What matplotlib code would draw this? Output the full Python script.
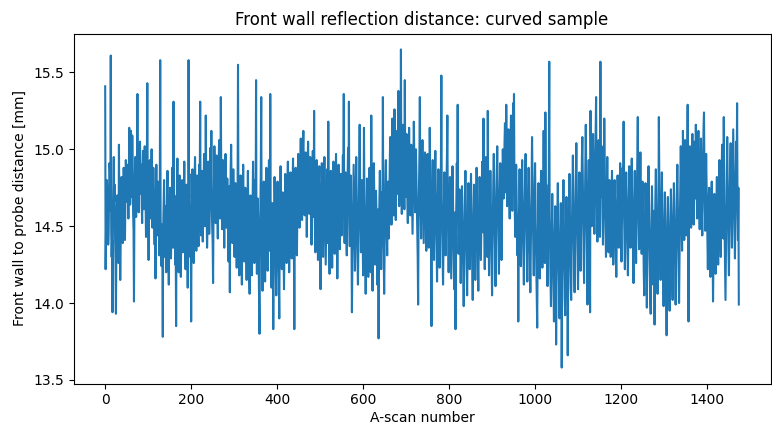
import matplotlib
matplotlib.use("Agg")
import matplotlib.pyplot as plt
import numpy as np

title = "Front wall reflection distance: curved sample"
x_label = "A-scan number"
y_label = "Front wall to probe distance [mm]"

# Front wall to probe distance per A-scan (mm), 25 values per row
distance = [
    15.41, 14.22, 14.48, 14.65, 14.80, 14.72, 14.50, 14.38, 14.44, 14.69, 14.91, 14.85, 14.60, 15.61, 14.47, 14.30, 14.41, 13.94, 14.52, 14.74, 14.95, 14.66, 14.77, 14.43, 14.28,
    13.93, 14.35, 14.58, 14.70, 14.49, 14.32, 14.26, 15.03, 14.61, 14.44, 14.15, 14.38, 14.56, 14.82, 14.70, 14.47, 14.39, 14.62, 14.88, 14.76, 14.58, 14.41, 14.67, 14.93, 14.84,
    14.66, 14.78, 14.90, 14.72, 14.55, 14.80, 15.14, 14.86, 14.64, 14.73, 15.12, 14.88, 14.69, 15.09, 14.81, 14.58, 14.47, 14.01, 14.62, 14.84, 14.95, 14.70, 14.56, 14.77, 14.92,
    15.36, 14.82, 14.68, 14.59, 14.80, 14.97, 15.05, 14.86, 14.71, 14.90, 14.64, 14.52, 14.75, 14.99, 14.88, 14.61, 14.79, 15.02, 14.84, 14.66, 14.43, 14.70, 14.93, 15.43, 14.74,
    14.58, 14.28, 14.66, 14.85, 14.93, 14.72, 14.55, 14.81, 15.00, 14.77, 14.49, 14.62, 14.88, 14.70, 14.53, 14.38, 14.60, 14.16, 14.72, 14.90, 14.68, 14.44, 14.57, 14.79, 14.63,
    14.47, 14.31, 14.69, 15.58, 14.55, 14.40, 14.24, 14.51, 14.35, 13.78, 14.49, 14.66, 14.80, 14.58, 14.30, 14.42, 14.63, 14.20, 14.45, 14.72, 14.86, 14.54, 14.33, 14.12, 14.48,
    14.61, 14.75, 14.50, 14.29, 14.41, 14.67, 14.88, 14.57, 14.36, 15.31, 14.54, 14.70, 14.43, 14.25, 14.39, 13.85, 14.52, 14.78, 14.94, 14.66, 14.45, 14.20, 14.57, 14.83, 14.60,
    14.38, 14.17, 14.44, 14.69, 14.80, 14.56, 14.33, 14.48, 14.73, 14.92, 14.64, 14.40, 14.22, 14.51, 14.77, 14.59, 14.35, 14.10, 14.46, 15.58, 14.68, 14.84, 14.55, 14.30, 14.43,
    13.88, 14.49, 14.71, 14.87, 14.62, 14.41, 14.26, 14.58, 14.80, 14.95, 14.69, 14.47, 14.34, 14.60, 14.83, 14.74, 14.52, 14.37, 14.66, 14.90, 14.78, 15.31, 14.57, 14.44, 14.70,
    14.86, 14.63, 14.40, 14.55, 14.79, 14.97, 14.72, 14.50, 14.64, 15.22, 14.81, 14.59, 14.36, 14.48, 14.73, 14.92, 14.68, 14.45, 14.57, 14.82, 15.01, 14.76, 15.12, 14.62, 14.49,
    14.40, 14.13, 14.58, 14.80, 15.02, 14.88, 14.65, 14.52, 14.74, 14.96, 14.83, 14.57, 14.42, 14.69, 14.91, 15.06, 14.79, 14.55, 14.67, 15.34, 14.86, 14.63, 14.48, 14.71, 14.93,
    14.78, 14.55, 14.36, 14.62, 14.85, 14.97, 14.70, 14.49, 14.58, 14.81, 14.66, 14.41, 14.27, 14.53, 14.76, 14.07, 14.60, 14.88, 15.03, 14.74, 14.52, 14.39, 14.64, 14.87, 14.69,
    14.46, 14.30, 14.57, 14.78, 14.62, 14.41, 14.23, 14.49, 14.71, 15.55, 14.66, 14.44, 14.18, 14.37, 14.60, 14.83, 14.58, 14.35, 14.12, 14.45, 14.69, 14.90, 14.63, 14.40, 14.27,
    14.52, 14.75, 14.58, 14.33, 14.15, 14.41, 14.64, 14.86, 14.61, 14.38, 14.22, 14.06, 14.47, 14.70, 14.55, 14.32, 14.18, 14.43, 14.67, 14.92, 14.74, 14.49, 14.26, 14.53, 14.80,
    14.57, 15.45, 14.36, 14.19, 14.44, 14.68, 14.51, 14.29, 14.02, 13.80, 14.40, 14.63, 14.85, 15.34, 14.48, 14.25, 14.08, 14.37, 14.60, 14.79, 14.54, 14.31, 14.14, 14.42, 14.66,
    14.88, 14.62, 14.39, 14.21, 14.46, 14.71, 14.93, 14.58, 14.34, 15.36, 14.52, 14.27, 14.10, 14.43, 14.65, 14.49, 13.83, 14.38, 14.60, 14.82, 14.67, 14.41, 14.18, 14.05, 14.35,
    14.58, 14.79, 14.55, 14.30, 14.12, 13.90, 14.44, 14.68, 14.89, 14.63, 14.40, 14.22, 14.47, 14.72, 14.56, 14.33, 14.09, 14.37, 14.61, 14.84, 14.70, 14.45, 14.26, 14.51, 14.77,
    14.92, 14.66, 14.43, 14.20, 14.38, 14.62, 14.85, 14.71, 14.48, 14.29, 14.53, 14.78, 14.94, 14.60, 14.35, 13.83, 14.42, 14.67, 14.88, 14.74, 14.50, 14.31, 14.57, 14.82, 14.97,
    14.80, 14.62, 14.49, 14.71, 14.93, 15.07, 14.86, 14.65, 14.54, 14.76, 15.00, 15.12, 14.89, 14.68, 14.57, 14.79, 14.98, 14.84, 14.61, 14.43, 14.66, 14.90, 15.05, 14.82, 14.70,
    14.58, 14.77, 14.95, 14.73, 14.51, 14.38, 14.60, 14.84, 14.99, 14.80, 14.56, 15.25, 14.69, 14.47, 14.33, 14.55, 14.78, 14.93, 14.71, 14.49, 14.28, 14.52, 14.75, 14.89, 14.64,
    14.42, 14.09, 14.50, 14.73, 14.91, 14.68, 14.44, 14.30, 14.56, 14.80, 14.95, 14.71, 14.48, 14.25, 14.47, 14.70, 14.87, 14.63, 14.39, 15.18, 14.58, 14.36, 14.19, 14.45, 14.69,
    14.86, 14.64, 14.41, 14.23, 14.50, 14.74, 14.92, 14.70, 14.47, 14.32, 14.59, 14.81, 14.97, 14.75, 14.52, 14.16, 14.43, 14.67, 14.90, 14.72, 14.49, 14.35, 14.61, 14.84, 14.66,
    14.44, 14.58, 14.79, 14.96, 14.73, 15.36, 14.55, 14.39, 14.62, 14.85, 14.70, 14.46, 14.31, 14.57, 14.82, 15.01, 14.68, 15.31, 14.52, 14.37, 14.60, 14.83, 14.64, 14.41, 13.94,
    14.26, 14.49, 14.72, 14.90, 14.66, 14.43, 14.21, 14.48, 14.74, 14.95, 14.70, 14.46, 14.28, 14.12, 14.40, 14.63, 14.87, 15.16, 14.78, 14.54, 14.33, 14.57, 14.80, 14.61, 14.37,
    14.18, 14.42, 15.14, 14.69, 14.47, 14.24, 14.06, 14.35, 14.58, 14.81, 14.62, 14.39, 14.17, 14.41, 14.66, 14.88, 14.63, 14.40, 14.20, 15.22, 14.53, 14.30, 14.08, 14.44, 14.70,
    14.91, 14.67, 14.43, 14.25, 14.48, 14.73, 14.59, 14.34, 14.12, 14.38, 14.61, 13.77, 14.45, 14.69, 14.86, 14.64, 14.40, 14.22, 14.47, 14.72, 14.55, 15.34, 14.50, 14.28, 14.06,
    14.35, 14.60, 14.84, 14.93, 14.70, 14.48, 14.31, 14.55, 14.79, 14.62, 14.42, 14.68, 14.90, 15.08, 14.85, 14.63, 14.51, 14.74, 15.20, 14.96, 14.72, 14.57, 14.81, 15.26, 14.89,
    14.67, 14.54, 14.76, 14.98, 15.12, 14.90, 14.71, 15.38, 14.84, 14.63, 14.79, 15.02, 14.88, 15.65, 14.75, 14.58, 14.70, 14.93, 15.16, 14.97, 14.74, 14.61, 15.45, 14.86, 14.69,
    14.92, 15.10, 14.87, 14.66, 14.52, 14.73, 14.95, 15.14, 14.91, 14.70, 14.57, 14.78, 15.03, 14.84, 14.62, 14.45, 14.68, 14.89, 15.18, 14.94, 14.76, 14.59, 14.83, 15.00, 14.80,
    14.63, 14.48, 14.30, 13.99, 14.55, 14.77, 14.96, 15.34, 14.74, 14.57, 14.42, 14.66, 14.88, 15.06, 14.82, 14.60, 14.39, 14.58, 14.81, 14.98, 14.75, 14.53, 14.34, 14.62, 14.85,
    14.97, 14.72, 14.50, 14.36, 14.61, 15.14, 14.83, 14.59, 14.40, 13.85, 14.52, 14.76, 14.93, 14.70, 14.47, 14.28, 14.55, 14.80, 14.99, 14.74, 14.53, 14.37, 14.14, 14.45, 14.68,
    14.87, 14.64, 14.42, 14.23, 14.49, 14.71, 14.90, 15.48, 14.67, 14.45, 14.29, 14.12, 14.40, 14.63, 14.85, 14.70, 14.48, 14.31, 14.57, 14.79, 14.95, 15.22, 14.61, 14.38, 14.20,
    14.44, 14.66, 14.82, 14.60, 14.37, 14.16, 14.42, 14.68, 14.89, 14.71, 14.50, 14.27, 14.09, 14.38, 14.59, 13.83, 14.47, 14.70, 14.91, 14.73, 15.29, 14.55, 14.32, 14.48, 14.74,
    14.57, 14.35, 14.13, 14.30, 14.52, 14.76, 14.60, 14.38, 14.17, 13.98, 14.27, 14.49, 14.71, 14.86, 14.63, 14.41, 14.20, 14.05, 14.33, 14.56, 14.78, 14.62, 14.39, 14.22, 14.46,
    14.69, 14.84, 14.61, 14.40, 14.19, 14.02, 14.31, 14.54, 14.77, 14.59, 14.36, 14.15, 14.43, 14.67, 14.88, 14.70, 14.47, 14.25, 14.08, 14.37, 14.60, 14.82, 14.64, 14.42, 14.28,
    14.51, 14.73, 14.92, 14.68, 14.46, 15.20, 14.63, 14.41, 14.22, 14.50, 14.74, 14.95, 14.71, 14.48, 14.30, 15.25, 14.66, 14.44, 14.18, 14.39, 14.62, 14.86, 14.69, 14.45, 14.27,
    14.05, 14.34, 14.58, 14.81, 14.97, 14.75, 14.53, 14.32, 14.11, 14.40, 14.64, 14.87, 15.02, 14.78, 14.55, 14.36, 14.19, 14.47, 14.70, 14.91, 14.72, 14.49, 14.28, 14.56, 14.80,
    15.00, 14.86, 14.68, 14.82, 15.05, 15.17, 14.94, 14.72, 15.29, 14.85, 14.63, 14.77, 14.99, 15.13, 14.90, 14.69, 14.55, 14.80, 15.04, 15.22, 14.96, 14.74, 14.60, 14.83, 15.30,
    14.88, 15.36, 14.79, 14.57, 14.43, 14.67, 14.90, 14.72, 14.48, 14.31, 14.55, 13.88, 14.46, 14.69, 14.87, 14.65, 14.42, 14.24, 14.50, 14.74, 14.93, 14.70, 14.47, 14.29, 14.12,
    14.38, 14.61, 14.83, 14.97, 14.75, 14.52, 14.33, 14.14, 14.43, 14.66, 14.88, 14.68, 14.45, 14.26, 14.07, 14.35, 14.58, 14.80, 15.08, 14.79, 14.56, 14.34, 14.18, 14.47, 14.72,
    14.91, 14.63, 14.40, 14.21, 14.03, 13.84, 14.32, 14.55, 14.78, 14.60, 14.37, 14.16, 14.44, 14.69, 14.86, 14.64, 14.42, 14.23, 14.50, 14.73, 15.12, 14.67, 14.45, 14.26, 15.24,
    14.58, 14.77, 14.52, 14.30, 14.11, 14.38, 14.62, 14.83, 15.57, 14.55, 14.33, 14.14, 13.98, 14.27, 14.50, 14.71, 14.49, 14.24, 14.05, 13.88, 14.20, 14.44, 14.63, 14.36, 13.73,
    14.12, 14.39, 14.61, 14.78, 14.54, 14.29, 14.06, 13.90, 14.17, 14.42, 14.65, 14.40, 13.58, 14.15, 14.33, 14.57, 14.80, 14.52, 14.26, 14.03, 13.92, 14.21, 14.48, 14.69, 14.44,
    14.20, 13.66, 14.10, 14.37, 14.62, 14.84, 14.59, 14.33, 14.11, 14.02, 14.30, 14.55, 14.78, 14.96, 14.70, 14.45, 14.22, 14.07, 14.35, 14.60, 14.82, 15.04, 14.76, 14.50, 14.27,
    14.09, 14.36, 14.60, 14.85, 14.66, 14.43, 14.21, 14.47, 14.72, 14.94, 15.08, 14.81, 14.56, 14.32, 14.13, 14.41, 14.67, 14.90, 15.16, 14.88, 14.62, 14.38, 13.99, 14.46, 14.74,
    14.93, 14.70, 14.48, 13.94, 15.25, 14.86, 14.64, 14.50, 14.73, 14.97, 15.10, 14.84, 14.62, 14.45, 14.68, 14.91, 15.19, 15.34, 14.80, 14.57, 14.40, 14.63, 14.87, 15.06, 14.82,
    14.60, 14.43, 15.57, 14.69, 14.88, 15.02, 14.77, 14.55, 14.38, 14.61, 14.84, 15.20, 14.90, 14.67, 14.46, 14.30, 14.53, 14.76, 14.95, 14.72, 14.50, 14.33, 14.58, 14.80, 14.64,
    14.47, 14.30, 14.52, 14.71, 14.86, 14.65, 14.44, 14.25, 14.41, 14.63, 14.80, 14.68, 14.49, 14.33, 14.17, 14.45, 14.66, 14.83, 14.70, 14.51, 14.36, 14.58, 14.77, 14.91, 14.62,
    14.42, 14.27, 14.50, 14.73, 14.88, 14.64, 15.18, 14.59, 14.39, 14.22, 14.46, 14.69, 14.85, 14.70, 14.53, 14.34, 14.18, 14.44, 14.67, 14.89, 14.75, 14.55, 14.36, 14.60, 14.82,
    14.94, 14.71, 14.48, 14.29, 14.13, 14.40, 14.64, 14.86, 14.68, 14.45, 14.26, 14.50, 14.74, 14.92, 15.21, 14.77, 14.54, 14.35, 14.57, 14.80, 14.98, 14.73, 14.51, 14.32, 14.56,
    14.79, 14.62, 14.39, 14.18, 14.05, 14.31, 14.55, 14.78, 14.60, 14.37, 13.97, 14.24, 14.48, 14.72, 14.89, 14.66, 14.43, 14.21, 14.02, 13.93, 14.29, 14.53, 14.76, 14.58, 14.34,
    14.12, 14.38, 14.60, 13.86, 14.46, 14.70, 14.87, 14.63, 14.41, 14.20, 14.06, 14.35, 14.59, 15.21, 14.82, 14.57, 14.33, 14.15, 14.42, 14.66, 14.85, 14.61, 14.39, 14.17, 13.98,
    14.27, 14.50, 14.72, 14.55, 14.32, 14.11, 13.79, 14.23, 14.47, 14.69, 14.52, 14.30, 14.08, 13.95, 14.28, 14.51, 14.74, 14.58, 14.36, 14.14, 14.02, 14.33, 14.57, 14.78, 14.61,
    14.39, 14.17, 13.99, 14.26, 14.49, 14.73, 14.90, 14.66, 14.43, 14.21, 14.00, 14.31, 14.56, 14.80, 15.02, 14.77, 14.54, 14.34, 14.58, 15.12, 14.86, 14.62, 14.41, 14.68, 15.06,
    14.84, 14.60, 14.44, 14.70, 14.95, 15.29, 14.73, 13.88, 14.56, 14.81, 15.02, 14.87, 14.65, 14.49, 14.72, 14.96, 15.10, 14.88, 14.64, 14.51, 14.77, 15.05, 14.90, 14.68, 15.16,
    14.92, 14.71, 14.55, 14.80, 15.01, 15.12, 14.86, 14.63, 14.48, 14.70, 14.94, 15.07, 14.83, 14.60, 14.44, 14.67, 14.91, 15.15, 15.24, 14.85, 14.62, 14.47, 14.73, 14.97, 14.78,
    14.56, 14.39, 14.22, 14.46, 14.68, 14.75, 14.53, 14.33, 14.17, 14.42, 14.64, 14.79, 14.58, 14.37, 14.01, 14.30, 14.52, 14.71, 14.60, 14.40, 14.19, 14.44, 14.67, 14.82, 14.59,
    14.36, 14.25, 14.50, 14.74, 14.93, 14.70, 14.47, 14.30, 14.55, 14.79, 15.03, 14.85, 14.61, 14.42, 15.21, 14.66, 14.44, 14.25, 14.02, 14.37, 14.63, 14.88, 15.08, 14.80, 14.57,
    14.33, 14.18, 14.45, 14.71, 14.92, 15.04, 14.78, 14.54, 14.36, 14.60, 14.86, 15.13, 14.90, 14.66, 14.47, 14.29, 14.55, 14.80, 15.05, 14.84, 15.30, 14.62, 14.41, 14.75, 13.99,
]
scan_number = np.arange(len(distance))

fig = plt.figure(figsize=(7.72, 4.24), dpi=100)
ax = fig.add_axes([73.5 / 772, 1 - 383.5 / 424, (770.5 - 73.5) / 772, (383.5 - 33.5) / 424])
ax.plot(scan_number, distance, color="#1f77b4", linewidth=1.5)
ax.set_title(title)
ax.set_xlabel(x_label, labelpad=3)
ax.set_ylabel(y_label)
ax.set_yticks([13.5, 14.0, 14.5, 15.0, 15.5])
fig.savefig("out.png", dpi=100)
